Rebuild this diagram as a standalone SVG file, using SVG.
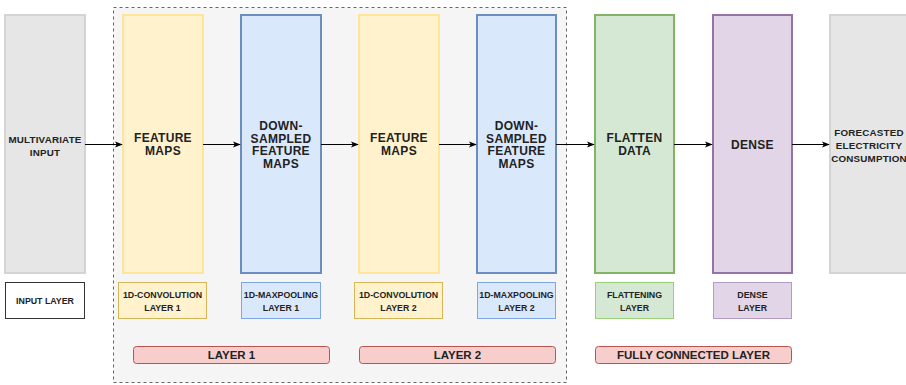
<svg xmlns="http://www.w3.org/2000/svg" width="906" height="385" viewBox="0 0 906 385">
<defs>
<marker id="ah" viewBox="0 0 10 10" refX="9" refY="5" markerWidth="8" markerHeight="8" markerUnits="userSpaceOnUse" orient="auto">
<path d="M0,1 L10,5 L0,9 L2.5,5 Z" fill="#000"/>
</marker>
<style>
text{font-family:"Liberation Sans",Arial,sans-serif;font-weight:bold;fill:#222;text-anchor:middle}
.big{font-size:12px;letter-spacing:0.3px}
.in{font-size:9.8px;letter-spacing:0.2px}
.lbl{font-size:8.8px}
.bar{font-size:11.5px}
.gray{fill:#e6e6e6;stroke:#d4d4d4;stroke-width:2}
.yel{fill:#fff2cc;stroke:#ffe599;stroke-width:2}
.blu{fill:#dae8fc;stroke:#6c8ebf;stroke-width:2}
.grn{fill:#d5e8d4;stroke:#82b366;stroke-width:2}
.pur{fill:#e1d5e7;stroke:#9673a6;stroke-width:2}
.yelL{fill:#fff2cc;stroke:#d6b656;stroke-width:1}
.bluL{fill:#dae8fc;stroke:#7ea6e0;stroke-width:1}
.grnL{fill:#d5e8d4;stroke:#97d077;stroke-width:1}
.purL{fill:#e1d5e7;stroke:#b59cc4;stroke-width:1}
.red{fill:#f8cecc;stroke:#b85450;stroke-width:1}
.conn line{stroke:#000;stroke-width:1;marker-end:url(#ah)}
</style>
</defs>
<rect x="0" y="0" width="906" height="385" fill="#fff"/>
<g id="container">
<rect x="113.5" y="7.5" width="453" height="375" fill="#f5f5f5" stroke="#666" stroke-width="1" stroke-dasharray="3 3"/>
</g>
<g id="input">
<rect class="gray" x="5" y="15" width="80" height="258"/>
<text class="in" x="45" y="142.5">MULTIVARIATE</text>
<text class="in" x="45" y="155.5">INPUT</text>
</g>
<g id="fm1">
<rect class="yel" x="123" y="15" width="80" height="258"/>
<text class="big" x="163" y="142">FEATURE</text>
<text class="big" x="163" y="155">MAPS</text>
</g>
<g id="ds1">
<rect class="blu" x="241" y="15" width="80" height="258"/>
<text class="big" x="281" y="130">DOWN-</text>
<text class="big" x="281" y="142.5">SAMPLED</text>
<text class="big" x="281" y="155">FEATURE</text>
<text class="big" x="281" y="167.5">MAPS</text>
</g>
<g id="fm2">
<rect class="yel" x="359" y="15" width="80" height="258"/>
<text class="big" x="399" y="142">FEATURE</text>
<text class="big" x="399" y="155">MAPS</text>
</g>
<g id="ds2">
<rect class="blu" x="477" y="15" width="79" height="258"/>
<text class="big" x="516.5" y="130">DOWN-</text>
<text class="big" x="516.5" y="142.5">SAMPLED</text>
<text class="big" x="516.5" y="155">FEATURE</text>
<text class="big" x="516.5" y="167.5">MAPS</text>
</g>
<g id="flatten">
<rect class="grn" x="595" y="15" width="79" height="258"/>
<text class="big" x="634.5" y="142">FLATTEN</text>
<text class="big" x="634.5" y="155">DATA</text>
</g>
<g id="dense">
<rect class="pur" x="713" y="15" width="79" height="258"/>
<text class="big" x="752.5" y="148.5">DENSE</text>
</g>
<g id="output">
<rect class="gray" x="830" y="15" width="80" height="258"/>
<text class="in" x="869" y="136">FORECASTED</text>
<text class="in" x="869" y="149">ELECTRICITY</text>
<text class="in" x="869" y="162">CONSUMPTION</text>
</g>
<g id="lbl-input">
<rect x="5.5" y="282.5" width="79" height="36" fill="#fff" stroke="#333" stroke-width="1"/>
<text class="lbl" x="45" y="304">INPUT LAYER</text>
</g>
<g id="lbl-conv1">
<rect class="yelL" x="118.5" y="282.5" width="88" height="36"/>
<text class="lbl" x="162.5" y="298">1D-CONVOLUTION</text>
<text class="lbl" x="162.5" y="310.5">LAYER 1</text>
</g>
<g id="lbl-pool1">
<rect class="bluL" x="241.5" y="282.5" width="79" height="36"/>
<text class="lbl" x="281" y="298">1D-MAXPOOLING</text>
<text class="lbl" x="281" y="310.5">LAYER 1</text>
</g>
<g id="lbl-conv2">
<rect class="yelL" x="354.5" y="282.5" width="88" height="36"/>
<text class="lbl" x="398.5" y="298">1D-CONVOLUTION</text>
<text class="lbl" x="398.5" y="310.5">LAYER 2</text>
</g>
<g id="lbl-pool2">
<rect class="bluL" x="477.5" y="282.5" width="78" height="36"/>
<text class="lbl" x="516.5" y="298">1D-MAXPOOLING</text>
<text class="lbl" x="516.5" y="310.5">LAYER 2</text>
</g>
<g id="lbl-flatten">
<rect class="grnL" x="595.5" y="282.5" width="78" height="36"/>
<text class="lbl" x="634.5" y="298">FLATTENING</text>
<text class="lbl" x="634.5" y="310.5">LAYER</text>
</g>
<g id="lbl-dense">
<rect class="purL" x="713.5" y="282.5" width="78" height="36"/>
<text class="lbl" x="752.5" y="298">DENSE</text>
<text class="lbl" x="752.5" y="310.5">LAYER</text>
</g>
<g id="bar-layer1">
<rect class="red" x="133.5" y="346.5" width="196" height="17" rx="3"/>
<text class="bar" x="231.5" y="359">LAYER 1</text>
</g>
<g id="bar-layer2">
<rect class="red" x="359.5" y="346.5" width="196" height="17" rx="3"/>
<text class="bar" x="457.5" y="359">LAYER 2</text>
</g>
<g id="bar-fc">
<rect class="red" x="595.5" y="346.5" width="196" height="17" rx="3"/>
<text class="bar" x="693.5" y="359">FULLY CONNECTED LAYER</text>
</g>
<g class="conn" id="connectors">
<line x1="85" y1="144.5" x2="122" y2="144.5"/>
<line x1="203" y1="144.5" x2="240" y2="144.5"/>
<line x1="321" y1="144.5" x2="358" y2="144.5"/>
<line x1="439" y1="144.5" x2="476" y2="144.5"/>
<line x1="556" y1="144.5" x2="594" y2="144.5"/>
<line x1="674" y1="144.5" x2="712" y2="144.5"/>
<line x1="792" y1="144.5" x2="829" y2="144.5"/>
</g>
</svg>
